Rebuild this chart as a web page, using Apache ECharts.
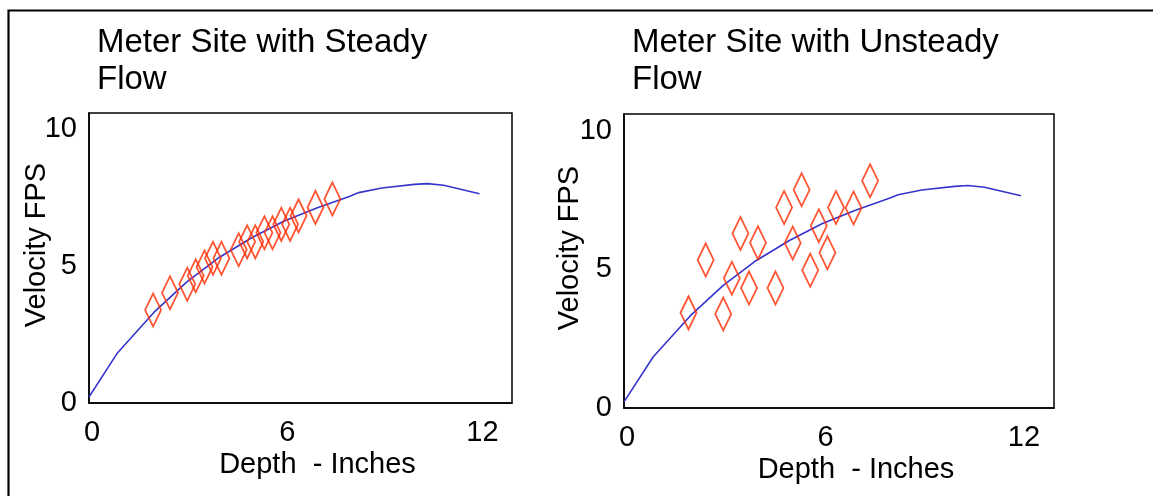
<!DOCTYPE html>
<html>
<head>
<meta charset="utf-8">
<script src="https://cdn.jsdelivr.net/npm/echarts@6/dist/echarts.min.js"></script>
<style>
html,body{margin:0;padding:0;background:#fff;}
#chart{width:1153px;height:496px;}
</style>
</head>
<body>
<div id="chart"></div>
<script>
// Titles
const titles = ['Meter Site with Steady\nFlow', 'Meter Site with Unsteady\nFlow'];
const xAxisName = 'Depth  - Inches';
const yAxisName = 'Velocity FPS';

// Fitted curve (same on both panels): depth (in), velocity (fps)
const curveX = [0, 0.88, 2, 3, 4, 5, 6, 7, 8, 8.29, 9, 10, 10.4, 10.9, 12];
const curveY = [0.22, 1.84, 3.32, 4.42, 5.32, 6.04, 6.65, 7.13, 7.55, 7.69, 7.86, 7.99, 8.02, 7.96, 7.65];

// Steady-flow measurements
const steadyX = [1.97, 2.49, 3.02, 3.28, 3.55, 3.81, 4.07, 4.60, 4.86, 5.11, 5.39, 5.64, 5.91, 6.18, 6.44, 6.96, 7.48];
const steadyY = [3.40, 4.03, 4.34, 4.65, 4.97, 5.29, 5.29, 5.60, 5.89, 5.89, 6.22, 6.22, 6.53, 6.53, 6.84, 7.15, 7.46];

// Unsteady-flow measurements
const unsteadyX = [1.95, 2.47, 3.00, 3.26, 3.52, 3.78, 4.05, 4.58, 4.84, 5.10, 5.37, 5.63, 5.89, 6.15, 6.41, 6.94, 7.44];
const unsteadyY = [3.43, 5.34, 3.39, 4.68, 6.29, 4.33, 5.96, 4.33, 7.23, 5.95, 7.87, 4.97, 6.57, 5.60, 7.23, 7.21, 8.19];

// Axis ranges / ticks
const xMin = 0, xMax = 13, xInterval = 6;
const yMin = 0, yMax = 10.6, yInterval = 5;

const pair = (xs, ys) => xs.map((x, i) => [x, ys[i]]);

const FONT = '"Liberation Sans", Arial, Helvetica, sans-serif';
const grids = [
  {left: 89, top: 113, width: 423, height: 290},
  {left: 624, top: 114, width: 430, height: 294}
];
const yNameGaps = [38, 40];

function xAxis(i) {
  return {
    gridIndex: i, type: 'value', min: xMin, max: xMax, interval: xInterval,
    name: xAxisName, nameLocation: 'middle', nameGap: 47, nameMoveOverlap: false,
    nameTextStyle: {fontFamily: FONT, fontSize: 29, color: '#000', padding: [0, 0, 0, 34]},
    axisLine: {show: true, lineStyle: {color: '#000', width: 1.5}},
    axisTick: {show: false}, splitLine: {show: false},
    axisLabel: {fontFamily: FONT, fontSize: 29, color: '#000', margin: 15,
      padding: [0, 0, 0, 6],
      formatter: v => (v % xInterval === 0 ? String(v) : '')}
  };
}
function yAxis(i) {
  return {
    gridIndex: i, type: 'value', min: yMin, max: yMax, interval: yInterval,
    name: yAxisName, nameLocation: 'middle', nameGap: yNameGaps[i], nameMoveOverlap: false,
    nameTextStyle: {fontFamily: FONT, fontSize: 29, color: '#000', padding: [0, 0, 0, 26]},
    axisLine: {show: true, lineStyle: {color: '#000', width: 1.5}},
    axisTick: {show: false}, splitLine: {show: false},
    axisLabel: {fontFamily: FONT, fontSize: 29, color: '#000', margin: 12,
      formatter: v => (v % yInterval === 0 ? String(v) : '')}
  };
}
function curve(i) {
  return {type: 'line', xAxisIndex: i, yAxisIndex: i, data: pair(curveX, curveY),
    showSymbol: false, symbol: 'none', smooth: false,
    lineStyle: {color: '#3535cc', width: 1.6}, z: 2, silent: true};
}
function pts(i, xs, ys) {
  return {type: 'scatter', xAxisIndex: i, yAxisIndex: i, data: pair(xs, ys),
    symbol: 'diamond', symbolSize: [16, 33],
    itemStyle: {color: 'rgba(0,0,0,0)', borderColor: '#ff2a00', borderWidth: 2},
    z: 3, silent: true};
}

const chart = echarts.init(document.getElementById('chart'), null, {renderer: 'canvas'});
chart.setOption({
  animation: false,
  backgroundColor: '#fff',
  title: [
    {text: titles[0], left: 92, top: 19, textStyle: {fontFamily: FONT, fontSize: 33, fontWeight: 'normal', color: '#000', lineHeight: 37}},
    {text: titles[1], left: 627, top: 19, textStyle: {fontFamily: FONT, fontSize: 33, fontWeight: 'normal', color: '#000', lineHeight: 37}}
  ],
  graphic: [{type: 'rect', left: 6, top: 8, shape: {x: 0, y: 0, width: 1200, height: 600},
    style: {fill: 'none', stroke: '#000', lineWidth: 2.2}, silent: true}],
  grid: grids.map(g => Object.assign({show: true, borderColor: '#000', borderWidth: 1.5, backgroundColor: 'transparent'}, g)),
  xAxis: [xAxis(0), xAxis(1)],
  yAxis: [yAxis(0), yAxis(1)],
  series: [curve(0), pts(0, steadyX, steadyY), curve(1), pts(1, unsteadyX, unsteadyY)]
});
</script>
</body>
</html>
